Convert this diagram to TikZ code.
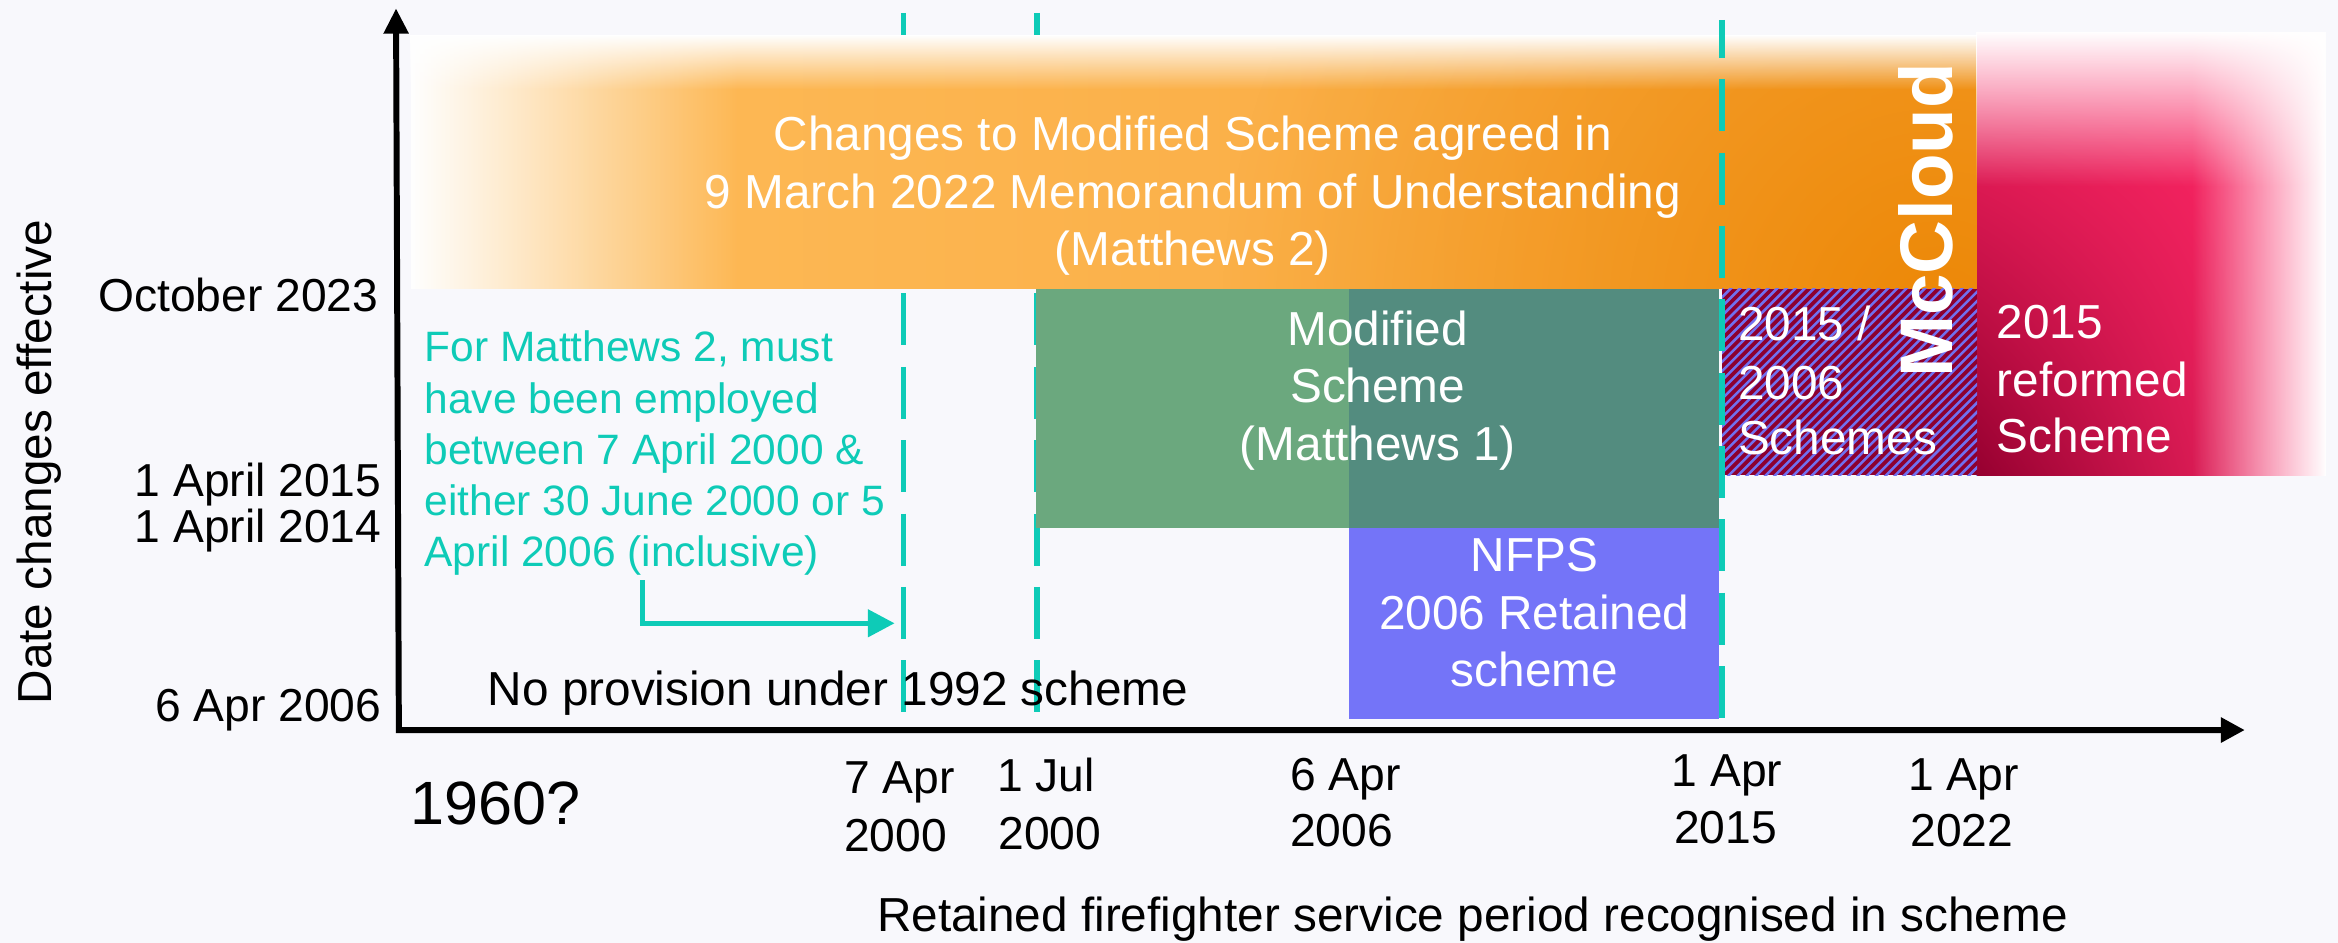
\documentclass[tikz,border=0pt]{standalone}
\usepackage{fontspec}
\setmainfont{Liberation Sans}
\usetikzlibrary{arrows.meta,fadings,shadings}
\definecolor{bgc}{RGB}{248,248,252}
\definecolor{tealc}{RGB}{14,203,183}
\definecolor{greenL}{RGB}{107,168,126}
\definecolor{greenR}{RGB}{83,140,127}
\definecolor{nfpsblue}{RGB}{116,116,248}
\definecolor{orL}{RGB}{254,188,90}
\definecolor{orR}{RGB}{248,166,58}
\definecolor{orD}{RGB}{236,134,4}
\definecolor{pkA}{RGB}{255,38,100}
\definecolor{pkB}{RGB}{255,42,104}
\definecolor{crim}{RGB}{150,0,48}
\definecolor{hatR}{RGB}{140,0,48}
\definecolor{hatB}{RGB}{112,112,240}
\tikzfading[name=fadeR, left color=transparent!0, right color=transparent!100]
\tikzfading[name=fadeL, left color=transparent!100, right color=transparent!0]
\tikzfading[name=fadeD, top color=transparent!0, bottom color=transparent!100]
\tikzfading[name=radF, inner color=transparent!0, outer color=transparent!100]
\begin{document}
\begin{tikzpicture}[x=1pt,y=-1pt,
  lbl/.style={inner sep=0pt, font=\fontsize{31}{37}\selectfont},
  big/.style={inner sep=0pt, font=\fontsize{32}{38}\selectfont},
  wtxt/.style={big, text=white},
  ttxt/.style={inner sep=0pt, text=tealc, font=\fontsize{28.5}{34}\selectfont},
  dline/.style={draw=tealc, line width=3.6pt, dash pattern=on 34.9pt off 14.3pt},
  axisline/.style={line width=4pt, black},
]
\useasboundingbox (0,0) rectangle (1568,632.4);
\fill[bgc] (0,0) rectangle (1568,632.4);

% dashed lines under the band
\coordinate (d1t) at (605.8,8.7);  \coordinate (d1b) at (605.8,477.5);
\coordinate (d2t) at (695.5,8.7);  \coordinate (d2b) at (695.5,477.5);
\draw[dline, dash phase=8.7pt] (d1t) -- (d1b);
\draw[dline, dash phase=8.7pt] (d2t) -- (d2b);

% orange band
\shade[left color=orL, right color=orR] (276,24) rectangle (1326,193.5);
\begin{scope}
  \clip (276,24) rectangle (1326,193.5);
  \fill[orD, path fading=radF, opacity=0.95] (1300,215) circle[radius=480pt];
\end{scope}
\fill[white, path fading=fadeR] (275.5,23.5) rectangle (495,194);
\fill[white, path fading=fadeD] (275.5,23.5) rectangle (1327,60);

% pink region
\shade[upper left=pkA, upper right=pkA, lower left=crim, lower right=pkB] (1326,21.7) rectangle (1559,318.6);
\fill[white, path fading=fadeL] (1470,21.2) rectangle (1560,319.4);
\fill[white, path fading=fadeD] (1325.5,21.2) rectangle (1560,125);

% hatched box
\fill[hatR] (1155,193.5) rectangle (1326,318.6);
\begin{scope}
  \clip (1155,193.5) rectangle (1326,318.6);
  \foreach \k in {0,...,50} \draw[hatB, line width=1.7pt] ({1028+6.2*\k},320) -- ++(128,-128);
\end{scope}

% green and blue boxes
\fill[greenL] (695,193.5) rectangle (905,354);
\fill[greenR] (905,193.5) rectangle (1153,354);
\fill[nfpsblue] (905,354) rectangle (1153,482.4);

% 2015 dashed line on top
\coordinate (d3t) at (1154.8,13.4); \coordinate (d3b) at (1154.8,481.6);
\draw[dline, dash phase=9.5pt] (d3t) -- (d3b);

% axes
\coordinate (ytip) at (265.6,5.6);
\coordinate (orig) at (267.5,489.6);
\coordinate (xtip) at (1505.5,489.6);
\draw[axisline, {Triangle[length=17pt,width=16pt]}-{Triangle[length=16pt,width=16pt]}] (ytip) -- (orig) -- (xtip);

% teal arrow
\coordinate (arS) at (431,389);
\coordinate (arC) at (431,418);
\coordinate (arE) at (600,418);
\draw[tealc, line width=3.5pt, -{Triangle[length=18pt,width=18pt]}] (arS) -- (arC) -- (arE);

% y labels
\node[lbl, anchor=base east] (yOct) at (254,209) {October 2023};
\node[lbl, anchor=base east] (y15) at (256,333) {1 April 2015};
\node[lbl, anchor=base east] (y14) at (256,363.5) {1 April 2014};
\node[lbl, anchor=base east] (y06) at (256,484) {6 Apr 2006};
\node[big, rotate=90, anchor=base west] (yttl) at (34.8,472.5) {Date changes effective};

% x labels
\node[lbl, anchor=base west] (xa1) at (566,532) {7 Apr};
\node[lbl, anchor=base west] (xa2) at (566,571) {2000};
\node[lbl, anchor=base west] (xb1) at (668.5,531) {1 Jul};
\node[lbl, anchor=base west] (xb2) at (669.5,570) {2000};
\node[lbl, anchor=base west] (xc1) at (865,530) {6 Apr};
\node[lbl, anchor=base west] (xc2) at (865,568) {2006};
\node[lbl, anchor=base west] (xd1) at (1121,527.6) {1 Apr};
\node[lbl, anchor=base west] (xd2) at (1122.5,565.6) {2015};
\node[lbl, anchor=base west] (xe1) at (1279.5,530) {1 Apr};
\node[lbl, anchor=base west] (xe2) at (1281,568) {2022};
\node[inner sep=0pt, font=\fontsize{41}{49}\selectfont, anchor=base west] (x1960) at (275,553) {1960?};
\node[big, anchor=base west] (xttl) at (588,625) {Retained firefighter service period recognised in scheme};

% teal note
\node[ttxt, anchor=base west] (m1) at (284.5,242.6) {For Matthews 2, must};
\node[ttxt, anchor=base west] (m2) at (284.5,277) {have been employed};
\node[ttxt, anchor=base west] (m3) at (284.5,311.4) {between 7 April 2000 \&};
\node[ttxt, anchor=base west] (m4) at (284.5,345.8) {either 30 June 2000 or 5};
\node[ttxt, anchor=base west] (m5) at (284.5,380.2) {April 2006 (inclusive)};

\node[big, anchor=base west] (np) at (327,473) {No provision under 1992 scheme};

% orange band text
\node[wtxt, anchor=base] (o1) at (800,100.6) {Changes to Modified Scheme agreed in};
\node[wtxt, anchor=base] (o2) at (800,139.5) {9 March 2022 Memorandum of Understanding};
\node[wtxt, anchor=base] (o3) at (800,178) {(Matthews 2)};

% green text
\node[wtxt, anchor=base] (g1) at (924,231.4) {Modified};
\node[wtxt, anchor=base] (g2) at (924,270) {Scheme};
\node[wtxt, anchor=base] (g3) at (924,308.5) {(Matthews 1)};

% NFPS text
\node[wtxt, anchor=base] (n1) at (1029,383.4) {NFPS};
\node[wtxt, anchor=base] (n2) at (1029,422) {2006 Retained};
\node[wtxt, anchor=base] (n3) at (1029,460.5) {scheme};

% hatched text
\node[wtxt, anchor=base west] (h1) at (1165.5,228.5) {2015 /};
\node[wtxt, anchor=base west] (h2) at (1165.5,267.6) {2006};
\node[wtxt, anchor=base west] (h3) at (1165.5,305) {Schemes};

% pink text
\node[wtxt, anchor=base west] (p1) at (1339,226.9) {2015};
\node[wtxt, anchor=base west] (p2) at (1339,265.6) {reformed};
\node[wtxt, anchor=base west] (p3) at (1339,303.6) {Scheme};

% McCloud
\node[inner sep=0pt, text=white, font=\fontsize{50}{60}\selectfont\bfseries, rotate=90, anchor=base west] (mc) at (1309.7,253.5) {McCloud};
\end{tikzpicture}
\end{document}
